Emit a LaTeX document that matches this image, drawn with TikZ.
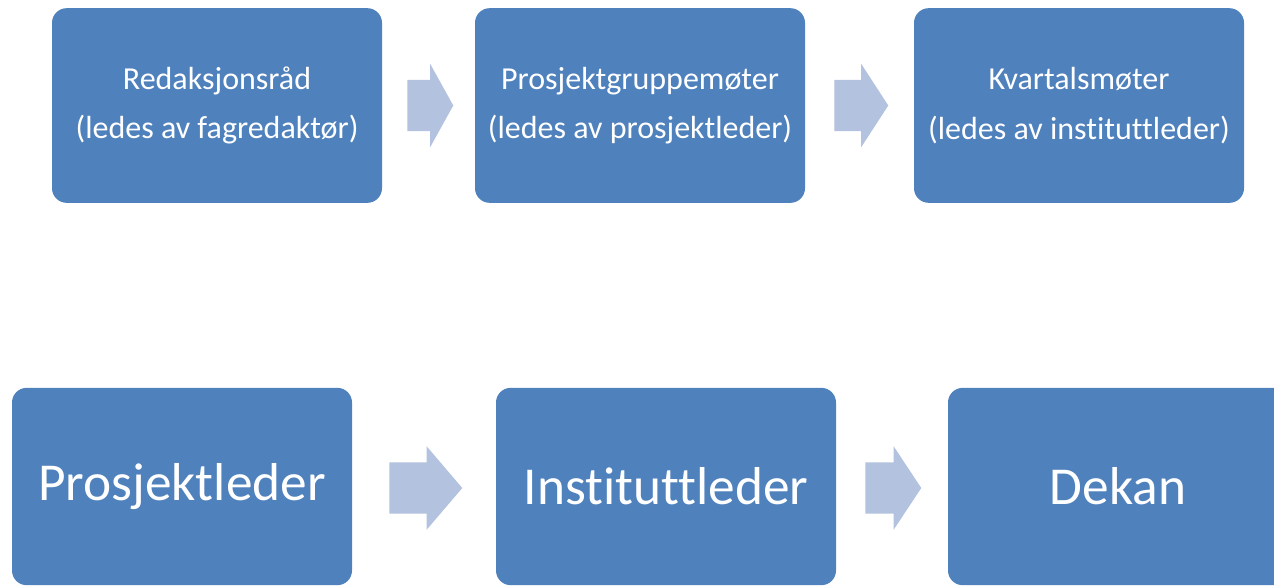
\documentclass[tikz,border=0pt]{standalone}
\usepackage{fontspec}
\setmainfont{Carlito}[Ligatures=CommonOff]
\usetikzlibrary{shapes.arrows}
\definecolor{boxblue}{HTML}{4F81BD}
\definecolor{arrowblue}{HTML}{B3C2DE}
\tikzstyle{block} = [draw=none, fill=boxblue, rectangle, rounded corners=11pt,
text=white, align=center, inner sep=0pt]
\tikzstyle{small block} = [block, minimum width=247.5pt, minimum height=146pt,
font=\fontsize{24}{37}\selectfont]
\tikzstyle{big block} = [block, minimum width=255pt, minimum height=148pt,
font=\fontsize{40}{48}\selectfont]
\tikzstyle{flow} = [single arrow, draw=none, fill=arrowblue, inner xsep=0pt, inner ysep=19.1pt,
minimum width=62.5pt, single arrow head extend=12pt, single arrow head indent=0pt, anchor=tail]

\begin{document}
\begin{tikzpicture}[x=0.75pt, y=-0.75pt]
	\useasboundingbox (0,0) rectangle (1274,587);
	\clip (0,0) rectangle (1274,587);

	% meetings
	\node [small block] (redaksjonsrad) at (217,105.5) {Redaksjonsråd\\(ledes av fagredaktør)};
	\node [small block] (prosjektgruppe) at (640,105.5) {Prosjektgruppemøter\\(ledes av prosjektleder)};
	\node [small block] (kvartal) at (1079,105.5) {Kvartalsmøter\\(ledes av instituttleder)};

	% reporting line
	\node [big block] (prosjektleder) at (182,486.5) {Prosjektleder};
	\node [big block] (instituttleder) at (666,486.5) {Instituttleder};
	\node [big block] (dekan) at (1118,486.5) {Dekan};

	\node [flow, minimum height=34.5pt, single arrow tip angle=122] (a) at (407,105.5) {};
	\node [flow, minimum height=40.5pt, single arrow tip angle=114] (b) at (834,105.5) {};
	\node [flow, minimum height=54.75pt, single arrow tip angle=99] (c) at (389,488) {};
	\node [flow, minimum height=42pt, single arrow tip angle=113] (d) at (865,488) {};

\end{tikzpicture}
\end{document}
